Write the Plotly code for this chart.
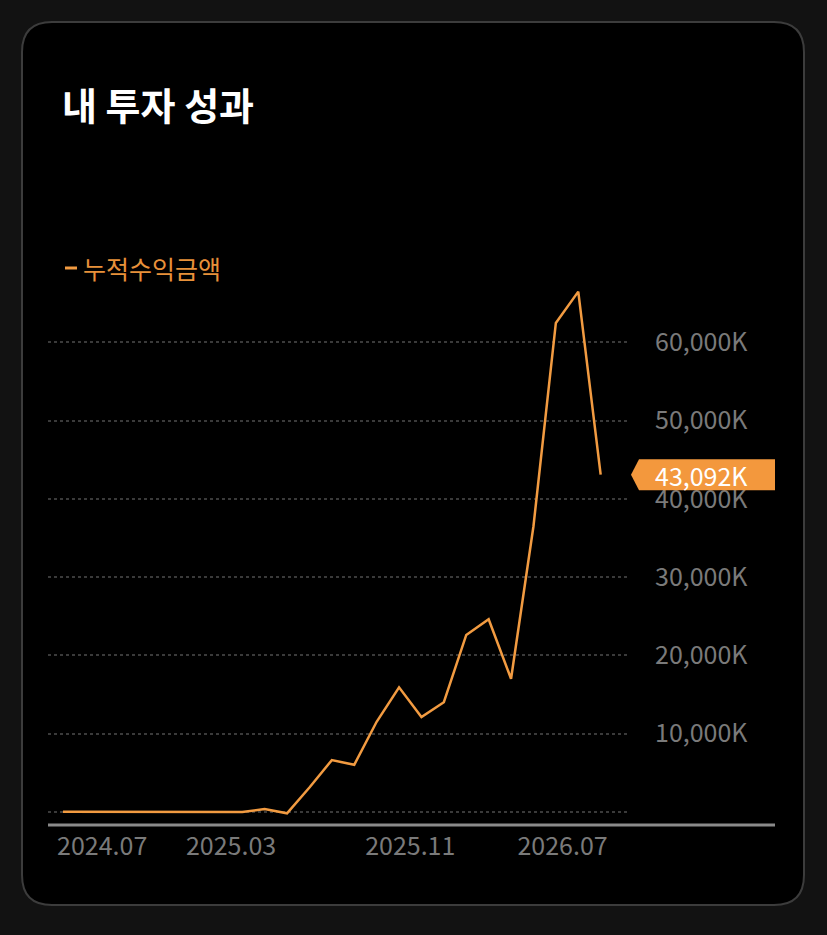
import plotly.graph_objects as go

# cumulative profit, in K
values = [0, 0, 0, 0, 0, 0, 0, 0, -50, 350, -200, 3100, 6600, 6000,
          11500, 15900, 12100, 14000, 22600, 24600, 17000, 36500, 62500,
          66500, 43092]
months = list(range(len(values)))

tick_pos = [1.75, 7.5, 15.5, 22.3]
tick_text = ['2024.07', '2025.03', '2025.11', '2026.07']
y_ticks = [0, 10000, 20000, 30000, 40000, 50000, 60000]

W, H = 827, 935
L, R, T, B = 48, 628, 276, 825   # plot area in pixels
ORANGE = '#F29B41'
GRAY = '#7a7a7a'
FONT = 'Noto Sans CJK KR'


def px(x):
    return (x - L) / (R - L)


def py(y):
    return (B - y) / (B - T)


def card_path(x0, y0, x1, y1, r):
    return (f'M {px(x0 + r)},{py(y0)} L {px(x1 - r)},{py(y0)} '
            f'Q {px(x1)},{py(y0)} {px(x1)},{py(y0 + r)} '
            f'L {px(x1)},{py(y1 - r)} Q {px(x1)},{py(y1)} {px(x1 - r)},{py(y1)} '
            f'L {px(x0 + r)},{py(y1)} Q {px(x0)},{py(y1)} {px(x0)},{py(y1 - r)} '
            f'L {px(x0)},{py(y0 + r)} Q {px(x0)},{py(y0)} {px(x0 + r)},{py(y0)} Z')


fig = go.Figure()
fig.add_trace(go.Scatter(x=months, y=values, mode='lines',
                         line=dict(color=ORANGE, width=2.5),
                         showlegend=False, hoverinfo='skip'))

# label badge for last value
last = values[-1]
half = 15.5 * 70200 / (B - T)
badge = (f'M {px(631)},{last} L {px(639)},{last + half} L {px(775)},{last + half} '
         f'L {px(775)},{last - half} L {px(639)},{last - half} Z')

fig.update_layout(
    width=W, height=H,
    margin=dict(l=L, r=W - R, t=T, b=H - B, pad=0),
    paper_bgcolor='#121212',
    plot_bgcolor='rgba(0,0,0,0)',
    font=dict(family=FONT, color=GRAY, size=25),
    shapes=[
        dict(type='path', xref='paper', yref='paper', layer='below',
             path=card_path(22, 22, 804, 905, 30),
             fillcolor='#000000', line=dict(color='#3c3c3c', width=2)),
        dict(type='line', xref='paper', yref='paper', layer='above',
             x0=px(48), x1=px(775), y0=py(825), y1=py(825),
             line=dict(color='#8a8a8a', width=3)),
        dict(type='line', xref='paper', yref='paper',
             x0=px(65), x1=px(77), y0=py(268), y1=py(268),
             line=dict(color=ORANGE, width=3)),
        dict(type='path', xref='paper', yref='y', layer='above',
             path=badge, fillcolor='#F3983D', line=dict(width=0)),
    ],
    annotations=[
        dict(text='<b>내 투자 성과</b>', xref='paper', yref='paper',
             x=px(60), y=py(104), xanchor='left', yanchor='middle',
             showarrow=False, font=dict(family=FONT, size=38, color='#ffffff')),
        dict(text='누적수익금액', xref='paper', yref='paper',
             x=px(81), y=py(268), xanchor='left', yanchor='middle',
             showarrow=False, font=dict(family=FONT, size=25, color='#E8913A')),
        dict(text=f'{last:,}K', xref='paper', yref='y',
             x=px(653), y=last, xanchor='left', yanchor='middle',
             showarrow=False, font=dict(family=FONT, size=25, color='#ffffff')),
    ],
)

fig.update_xaxes(range=[-0.67, 25.22], tickvals=tick_pos, ticktext=tick_text,
                 showgrid=False, zeroline=False, showline=False, ticks='',
                 ticklabelstandoff=4, tickfont=dict(color=GRAY, size=25))
fig.update_yaxes(range=[-1700, 68500], tickvals=y_ticks,
                 ticktext=['' if v == 0 else f'{v:,}K' for v in y_ticks],
                 side='right', showgrid=True, gridcolor='#3a3a3a', gridwidth=1.5,
                 griddash='dot', zeroline=False, showline=False, ticks='',
                 ticklabelstandoff=26, tickfont=dict(color=GRAY, size=25))

fig.write_html('out.html', config={'displayModeBar': False},
               post_script="document.body.style.margin='0';")
